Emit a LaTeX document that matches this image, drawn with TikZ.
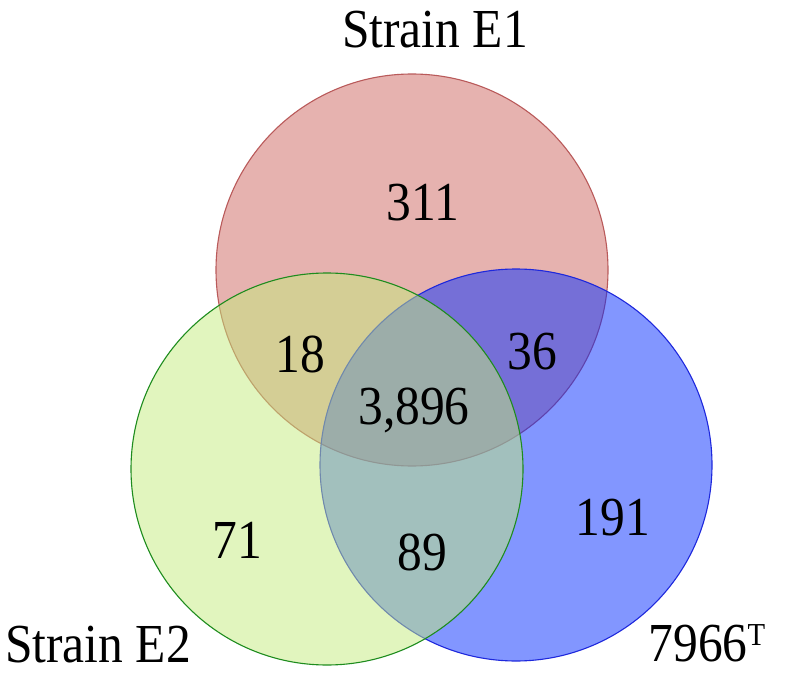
\documentclass[tikz,border=0pt]{standalone}
\usepackage{fontspec}
\setmainfont[FakeStretch=0.9]{Liberation Serif}
\usepackage{tikz}
\usetikzlibrary{positioning}

\definecolor{setred}{RGB}{230,178,175}
\definecolor{setredline}{RGB}{185,90,90}
\definecolor{setgreen}{RGB}{195,235,125}
\definecolor{setgreenline}{RGB}{30,140,30}
\definecolor{setblue}{RGB}{5,45,255}
\definecolor{setblueline}{RGB}{30,40,220}

\begin{document}
\begin{tikzpicture}[x=1pt,y=-1pt]
		\tikzstyle{setcircle} = [circle, minimum size=392pt, inner sep=0pt, line width=1.1pt];
		\tikzstyle{count} = [inner sep=0pt, font=\fontsize{55}{55}\selectfont];
		\useasboundingbox (0,0) rectangle (798,679);
		\node[setcircle, fill=setred, draw=setredline](e1) at (412,270) {};
		\node[setcircle, fill=setblue, fill opacity=0.5, draw=setblueline](t7966) at (516,465) {};
		\node[setcircle, fill=setgreen, fill opacity=0.5, draw=setgreenline](e2) at (327,469) {};
		\node[count](nameE1) at (435,30) {Strain E1};
		\node[count](nameE2) at (98,645) {Strain E2};
		\node[count](nameT) at (707,643) {7966\raisebox{16pt}{\fontsize{32}{32}\selectfont T}};
		\node[count](onlyE1) at (423,203) {311};
		\node[count](onlyE2) at (237,540) {71};
		\node[count](onlyT) at (613,518) {191};
		\node[count](e1e2) at (300,354) {18};
		\node[count](e1t) at (532,352) {36};
		\node[count](e2t) at (422,552) {89};
		\node[count](core) at (414,410) {3,896};
	\end{tikzpicture}
\end{document}
